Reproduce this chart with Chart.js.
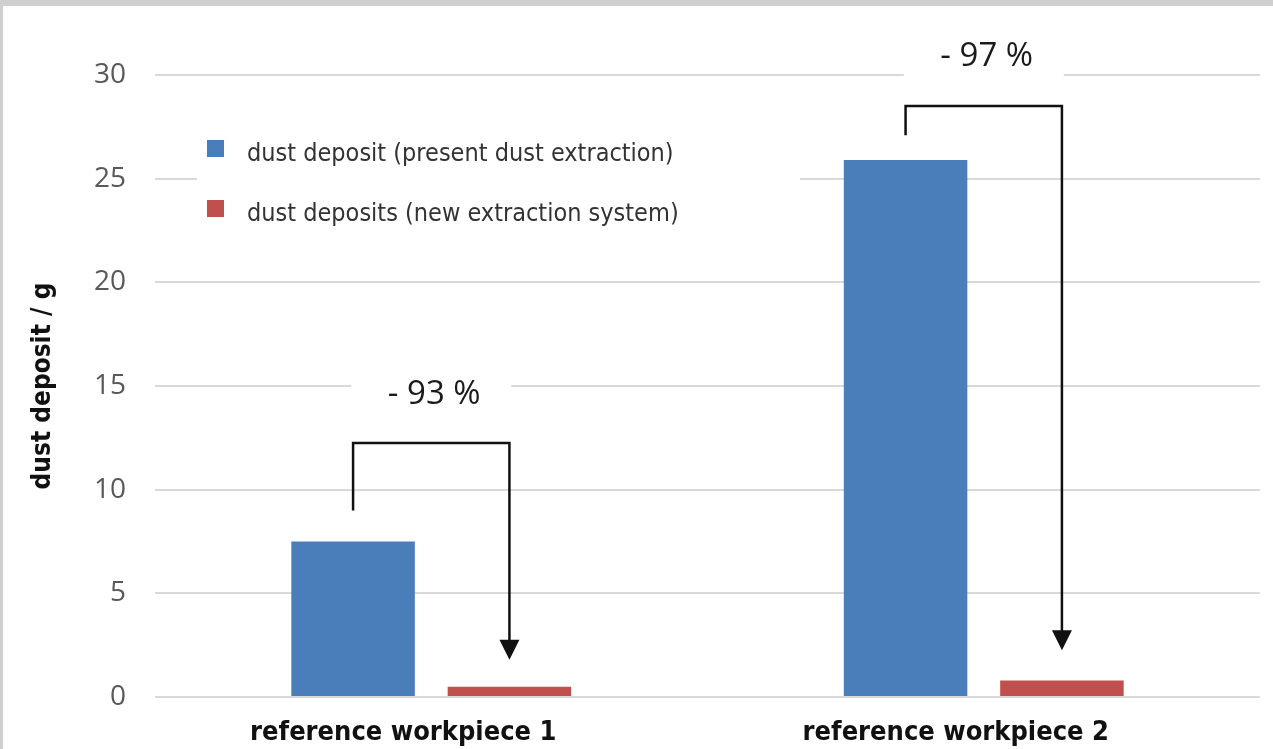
<!DOCTYPE html>
<html>
<head>
<meta charset="utf-8">
<script src="https://cdn.jsdelivr.net/npm/chart.js@4.4.1/dist/chart.umd.min.js"></script>
<style>
html, body { margin: 0; padding: 0; background: #cfcfcf; overflow: hidden; }
#marco { position: absolute; left: 3px; top: 6px; width: 1270px; height: 743px; background: #fff; }
</style>
</head>
<body>
<div id="marco"><canvas id="grafica"></canvas></div>
<script>
// Datos
const categorias = ["reference workpiece 1", "reference workpiece 2"];
const nombreActual = "dust deposit (present dust extraction)";
const nombreNueva = "dust deposits (new extraction system)";
const serieActual = [7.5, 25.9];
const serieNueva = [0.5, 0.8];

// Anotaciones de reducción (en unidades del eje Y)
const textoReduccion = ["- 93 %", "- 97 %"];
const yTextoReduccion = [14.6, 30.9];
const yInicioCorchete = [9.0, 27.1];
const yTopeCorchete = [12.25, 28.5];
const yFinFlecha = [1.8, 2.25];

const FUENTE_ESTRECHA = "'Liberation Sans Narrow', 'DejaVu Sans Condensed', sans-serif";
const FUENTE_NUM = "'Open Sans', sans-serif";

const leyendaPlugin = {
    id: "leyendaInterna",
    beforeDatasetsDraw(chart) {
        const { ctx, chartArea } = chart;
        ctx.save();
        // fondo blanco que tapa la rejilla detrás de la leyenda
        ctx.fillStyle = "#fff";
        ctx.fillRect(chartArea.left + 42, chartArea.top + 50, 603, 110);
        chart.data.datasets.forEach((ds, i) => {
            const y = chartArea.top + 73 + i * 60;
            ctx.fillStyle = ds.backgroundColor;
            ctx.fillRect(chartArea.left + 52, y - 8, 17, 17);
            ctx.fillStyle = "#333";
            ctx.font = "25px " + FUENTE_ESTRECHA;
            ctx.textBaseline = "middle";
            ctx.textAlign = "left";
            ctx.fillText(ds.label, chartArea.left + 92, y + 6);
        });
        ctx.restore();
    }
};

const reduccionPlugin = {
    id: "reduccion",
    afterDatasetsDraw(chart) {
        const { ctx } = chart;
        const y = chart.scales.y;
        const m0 = chart.getDatasetMeta(0), m1 = chart.getDatasetMeta(1);
        ctx.save();
        categorias.forEach((c, i) => {
            const x1 = m0.data[i].x, x2 = m1.data[i].x;
            const xc = (x1 + x2) / 2;
            const yt = y.getPixelForValue(yTextoReduccion[i]);
            ctx.fillStyle = "#fff";
            ctx.fillRect(xc - 80, yt - 20, 160, 40);
            ctx.fillStyle = "#1a1a1a";
            ctx.font = "33px " + FUENTE_NUM;
            ctx.textAlign = "center";
            ctx.textBaseline = "middle";
            ctx.fillText(textoReduccion[i], xc + 3, yt);

            const yA = y.getPixelForValue(yInicioCorchete[i]);
            const yB = y.getPixelForValue(yTopeCorchete[i]);
            const yC = y.getPixelForValue(yFinFlecha[i]);
            ctx.strokeStyle = "#111";
            ctx.lineWidth = 2.5;
            ctx.beginPath();
            ctx.moveTo(x1, yA);
            ctx.lineTo(x1, yB);
            ctx.lineTo(x2, yB);
            ctx.lineTo(x2, yC - 18);
            ctx.stroke();
            ctx.fillStyle = "#111";
            ctx.beginPath();
            ctx.moveTo(x2, yC);
            ctx.lineTo(x2 - 10, yC - 20);
            ctx.lineTo(x2 + 10, yC - 20);
            ctx.closePath();
            ctx.fill();
        });
        ctx.restore();
    }
};

new Chart(document.getElementById("grafica"), {
    type: "bar",
    data: {
        labels: categorias,
        datasets: [
            { label: nombreActual, data: serieActual, backgroundColor: "#4a7ebb" },
            { label: nombreNueva, data: serieNueva, backgroundColor: "#c0504d" }
        ]
    },
    options: {
        responsive: true,
        maintainAspectRatio: false,
        animation: false,
        categoryPercentage: 0.566,
        barPercentage: 0.79,
        layout: { padding: { left: 0, top: 69, right: 13, bottom: 0 } },
        plugins: { legend: { display: false }, tooltip: { enabled: false } },
        scales: {
            x: {
                grid: { display: false },
                border: { display: false },
                ticks: {
                    color: "#111",
                    padding: 12,
                    labelOffset: -28,
                    font: { family: FUENTE_ESTRECHA, size: 27, weight: "bold" }
                },
                afterFit: s => { s.height = 52; }
            },
            y: {
                min: 0,
                max: 30,
                ticks: {
                    stepSize: 5,
                    color: "#595959",
                    padding: 29,
                    font: { family: FUENTE_NUM, size: 28 }
                },
                grid: { color: "#d9d9d9", lineWidth: 2, drawTicks: false },
                border: { display: false },
                title: {
                    display: true,
                    text: "dust deposit / g",
                    color: "#111",
                    padding: { top: 25, bottom: 0 },
                    font: { family: FUENTE_ESTRECHA, size: 26, weight: "bold" }
                },
                afterFit: s => { s.width = 152; }
            }
        }
    },
    plugins: [leyendaPlugin, reduccionPlugin]
});
</script>
</body>
</html>
